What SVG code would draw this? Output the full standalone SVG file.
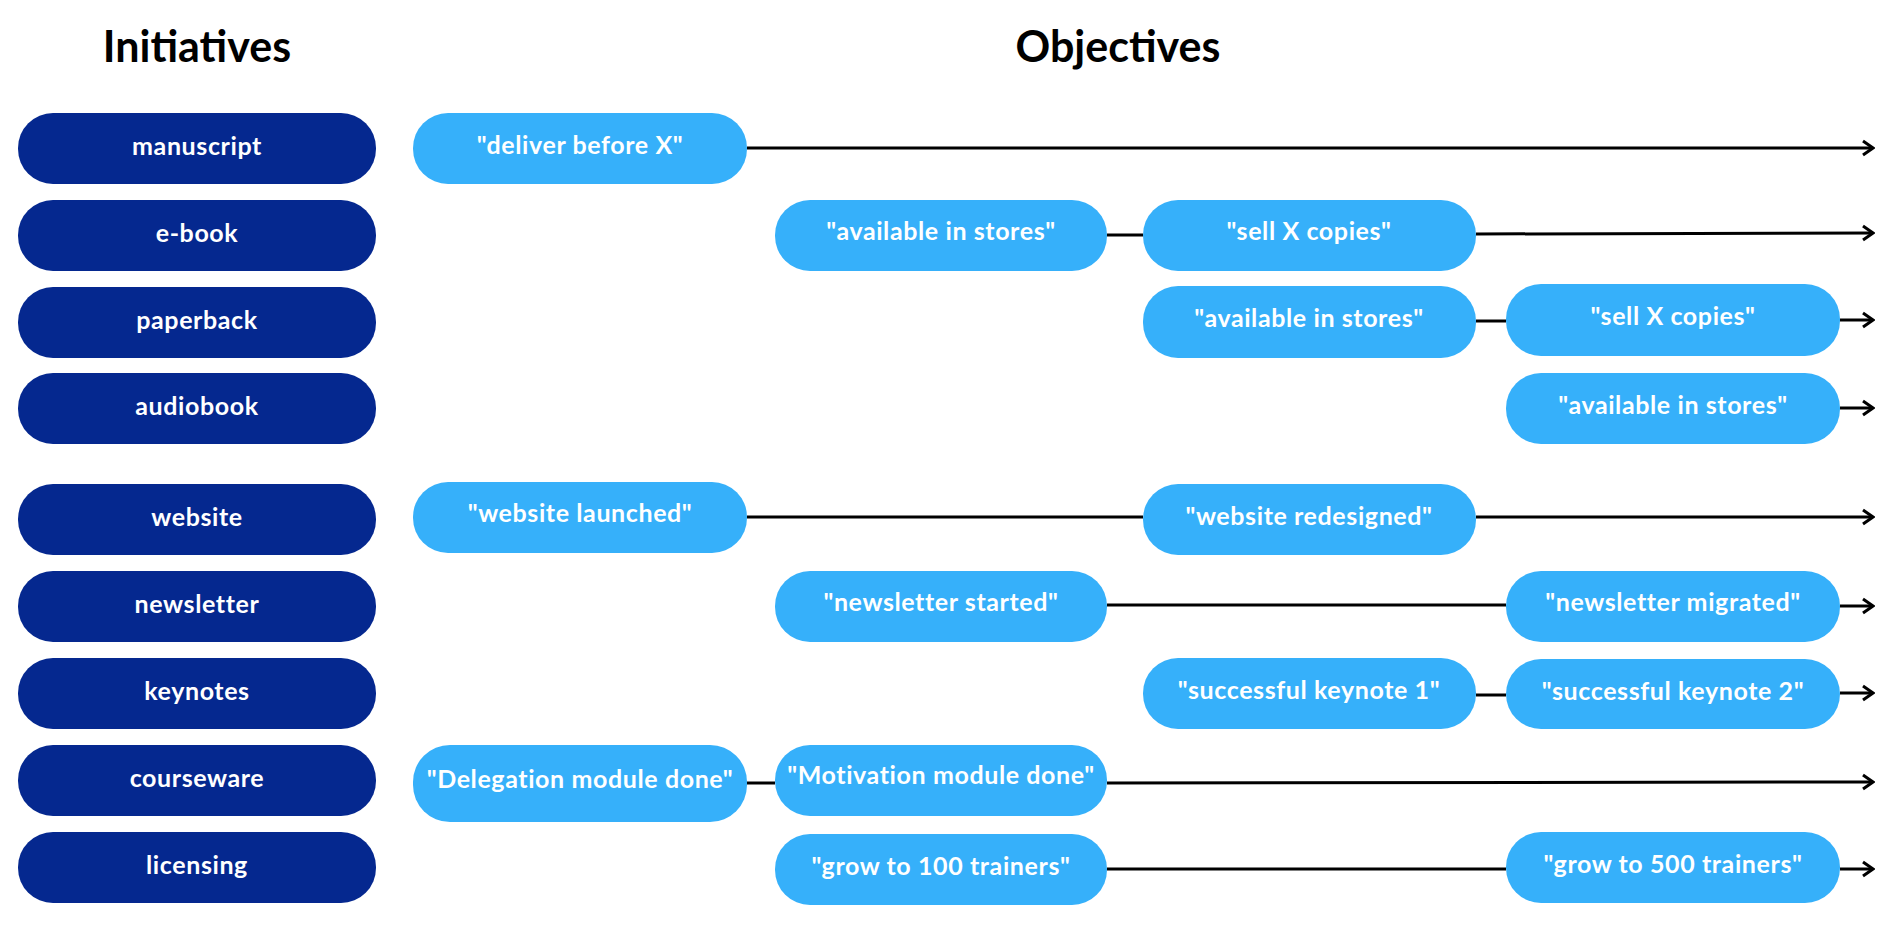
<svg xmlns="http://www.w3.org/2000/svg" width="1898" height="932" viewBox="0 0 1898 932">
<style>
.bg{fill:#ffffff}
.title{font-family:Lato,"Liberation Sans",sans-serif;font-weight:700;font-size:43px;fill:#000;text-anchor:middle}
.init rect{fill:#05288F}
.obj rect{fill:#36B0FA}
.init text,.obj text{font-family:Lato,"Liberation Sans",sans-serif;font-weight:700;font-size:25px;letter-spacing:0.6px;fill:#fff;text-anchor:middle}
.conn line{stroke:#000;stroke-width:3;fill:none}
.arr{marker-end:url(#arrow)}
</style>
<defs>
<marker id="arrow" viewBox="0 0 14 18" refX="12" refY="9" markerWidth="14" markerHeight="18" markerUnits="userSpaceOnUse" orient="auto">
<path d="M2,2 L12,9 L2,16" fill="none" stroke="#000" stroke-width="3" stroke-linejoin="miter"/>
</marker>
</defs>
<rect class="bg" x="0" y="0" width="1898" height="932"/>
<text class="title" x="197" y="62">Initiatives</text>
<text class="title" x="1118" y="62">Objectives</text>

<g class="conn" id="connectors">
<line x1="747" y1="148" x2="1873" y2="148" class="arr"/>
<line x1="1107" y1="235" x2="1143" y2="235"/>
<line x1="1476" y1="234" x2="1873" y2="233" class="arr"/>
<line x1="1476" y1="321" x2="1506" y2="321"/>
<line x1="1840" y1="320" x2="1873" y2="320" class="arr"/>
<line x1="1840" y1="408" x2="1873" y2="408" class="arr"/>
<line x1="747" y1="517" x2="1143" y2="517"/>
<line x1="1476" y1="517" x2="1873" y2="517" class="arr"/>
<line x1="1107" y1="605" x2="1506" y2="605"/>
<line x1="1840" y1="606" x2="1873" y2="606" class="arr"/>
<line x1="1476" y1="695" x2="1506" y2="695"/>
<line x1="1840" y1="693" x2="1873" y2="693" class="arr"/>
<line x1="747" y1="783" x2="775" y2="783"/>
<line x1="1107" y1="783" x2="1873" y2="782" class="arr"/>
<line x1="1107" y1="869" x2="1506" y2="869"/>
<line x1="1840" y1="869" x2="1873" y2="869" class="arr"/>
</g>

<g id="init-manuscript" class="init"><rect x="18" y="113" width="358" height="71" rx="35"/><text x="197" y="155">manuscript</text></g>
<g id="init-ebook" class="init"><rect x="18" y="200" width="358" height="71" rx="35"/><text x="197" y="242">e-book</text></g>
<g id="init-paperback" class="init"><rect x="18" y="287" width="358" height="71" rx="35"/><text x="197" y="329">paperback</text></g>
<g id="init-audiobook" class="init"><rect x="18" y="373" width="358" height="71" rx="35"/><text x="197" y="415">audiobook</text></g>
<g id="init-website" class="init"><rect x="18" y="484" width="358" height="71" rx="35"/><text x="197" y="526">website</text></g>
<g id="init-newsletter" class="init"><rect x="18" y="571" width="358" height="71" rx="35"/><text x="197" y="613">newsletter</text></g>
<g id="init-keynotes" class="init"><rect x="18" y="658" width="358" height="71" rx="35"/><text x="197" y="700">keynotes</text></g>
<g id="init-courseware" class="init"><rect x="18" y="745" width="358" height="71" rx="35"/><text x="197" y="787">courseware</text></g>
<g id="init-licensing" class="init"><rect x="18" y="832" width="358" height="71" rx="35"/><text x="197" y="874">licensing</text></g>

<g id="obj-deliver" class="obj"><rect x="413" y="113" width="334" height="71" rx="35"/><text x="580" y="154">"deliver before X"</text></g>
<g id="obj-ebook-stores" class="obj"><rect x="775" y="200" width="332" height="71" rx="35"/><text x="941" y="240">"available in stores"</text></g>
<g id="obj-ebook-sell" class="obj"><rect x="1143" y="200" width="333" height="71" rx="35"/><text x="1309" y="240">"sell X copies"</text></g>
<g id="obj-paper-stores" class="obj"><rect x="1143" y="286" width="333" height="72" rx="35"/><text x="1309" y="327">"available in stores"</text></g>
<g id="obj-paper-sell" class="obj"><rect x="1506" y="284" width="334" height="72" rx="35"/><text x="1673" y="325">"sell X copies"</text></g>
<g id="obj-audio-stores" class="obj"><rect x="1506" y="373" width="334" height="71" rx="35"/><text x="1673" y="414">"available in stores"</text></g>
<g id="obj-web-launched" class="obj"><rect x="413" y="482" width="334" height="71" rx="35"/><text x="580" y="522">"website launched"</text></g>
<g id="obj-web-redesigned" class="obj"><rect x="1143" y="484" width="333" height="71" rx="35"/><text x="1309" y="525">"website redesigned"</text></g>
<g id="obj-news-started" class="obj"><rect x="775" y="571" width="332" height="71" rx="35"/><text x="941" y="611">"newsletter started"</text></g>
<g id="obj-news-migrated" class="obj"><rect x="1506" y="571" width="334" height="71" rx="35"/><text x="1673" y="611">"newsletter migrated"</text></g>
<g id="obj-keynote1" class="obj"><rect x="1143" y="658" width="333" height="71" rx="35"/><text x="1309" y="699">"successful keynote 1"</text></g>
<g id="obj-keynote2" class="obj"><rect x="1506" y="659" width="334" height="70" rx="35"/><text x="1673" y="700">"successful keynote 2"</text></g>
<g id="obj-delegation" class="obj"><rect x="413" y="745" width="334" height="77" rx="37"/><text x="580" y="788">"Delegation module done"</text></g>
<g id="obj-motivation" class="obj"><rect x="775" y="745" width="332" height="71" rx="35"/><text x="941" y="784">"Motivation module done"</text></g>
<g id="obj-grow100" class="obj"><rect x="775" y="834" width="332" height="71" rx="35"/><text x="941" y="875">"grow to 100 trainers"</text></g>
<g id="obj-grow500" class="obj"><rect x="1506" y="832" width="334" height="71" rx="35"/><text x="1673" y="873">"grow to 500 trainers"</text></g>
</svg>
